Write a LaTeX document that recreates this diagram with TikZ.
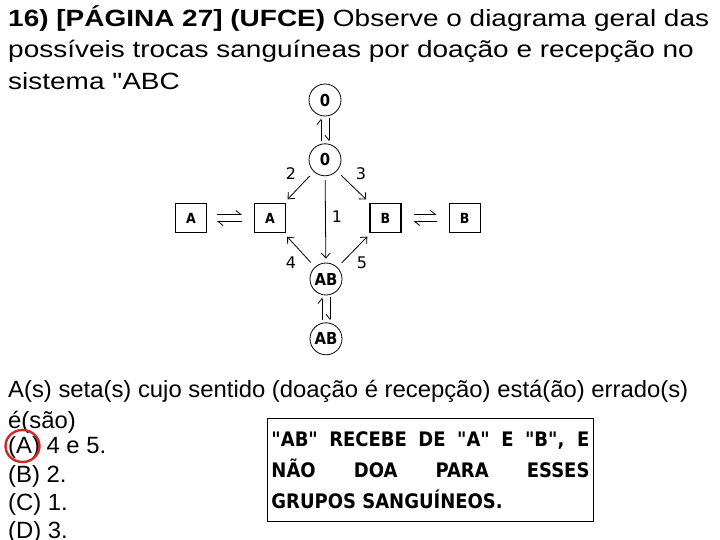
\documentclass[tikz,border=0pt]{standalone}
\usepackage{fontspec}
\newfontfamily\qfont{Liberation Sans}
\newfontfamily\diagfont{DejaVu Sans}
\newfontfamily\notefont{DejaVu Sans Condensed}
\usetikzlibrary{positioning,arrows.meta}
\definecolor{markred}{HTML}{D02828}

\begin{document}
\begin{tikzpicture}[x=1pt,y=-1pt,node distance=27pt,
  grp/.style={draw,circle,line width=0.8pt,minimum size=32pt,inner sep=0pt,font=\notefont\bfseries\fontsize{16.5}{16.5}\selectfont},
  bx/.style={draw,line width=1.1pt,minimum width=31pt,minimum height=29pt,inner sep=0pt,font=\notefont\bfseries\fontsize{14}{14}\selectfont},
  don/.style={-{Straight Barb[length=5pt,width=9pt]},line width=0.8pt,shorten <=6pt,shorten >=5pt},
  hpl/.style={-{Straight Barb[left,length=5pt,width=8pt]},line width=0.8pt},
  hpr/.style={-{Straight Barb[right,length=5pt,width=8pt]},line width=0.8pt},
  lbl/.style={font=\diagfont\fontsize{16}{16}\selectfont,inner sep=0pt},
  txt/.style={anchor=base west,inner sep=0pt,font=\qfont\fontsize{23.5}{28}\selectfont}]
  \useasboundingbox (0,0) rectangle (720,540);
  % heading
  \node[txt,xscale=1.19] (t1) at (8,27) {\textbf{16) [PÁGINA 27] (UFCE)} Observe o diagrama geral das};
  \node[txt,xscale=1.19] (t2) at (8,58) {possíveis trocas sanguíneas por doação e recepção no};
  \node[txt,xscale=1.19] (t3) at (8,90) {sistema "ABC};
  % blood groups
  \node[grp] (o1) at (325,100) {0};
  \node[grp,below=of o1] (o2) {0};
  \node[grp] (ab1) at (326,279) {AB};
  \node[grp,below=of ab1] (ab2) {AB};
  \node[bx] (a2) at (270,218) {A};
  \node[bx,left=47pt of a2] (a1) {A};
  \node[bx] (b1) at (385.5,218) {B};
  \node[bx,right=47pt of b1] (b2) {B};
  % two-way links
  \draw[hpl,shorten <=2pt,shorten >=2pt] ([xshift=-4pt]o2.north) -- ([xshift=-4pt]o1.south);
  \draw[hpr,shorten <=2pt,shorten >=2pt] ([xshift=4pt]o1.south) -- ([xshift=4pt]o2.north);
  \draw[hpl,shorten <=2pt,shorten >=2pt] ([xshift=-4pt]ab2.north) -- ([xshift=-4pt]ab1.south);
  \draw[hpr,shorten <=2pt,shorten >=2pt] ([xshift=4pt]ab1.south) -- ([xshift=4pt]ab2.north);
  \draw[hpl,shorten <=10pt,shorten >=12pt] ([yshift=3.5pt]a1.east) -- ([yshift=3.5pt]a2.west);
  \draw[hpl,shorten <=12pt,shorten >=10pt] ([yshift=-3.5pt]a2.west) -- ([yshift=-3.5pt]a1.east);
  \draw[hpl,shorten <=12pt,shorten >=12pt] ([yshift=3.5pt]b1.east) -- ([yshift=3.5pt]b2.west);
  \draw[hpl,shorten <=12pt,shorten >=12pt] ([yshift=-3.5pt]b2.west) -- ([yshift=-3.5pt]b1.east);
  % donations
  \draw[don,shorten <=4pt,shorten >=4pt] (o2) -- (ab1);
  \draw[don] (o2) -- (a2);
  \draw[don] (o2) -- (b1);
  \draw[don] (ab1) -- (a2);
  \draw[don] (ab1) -- (b1);
  \node[lbl] (n1) at (337,217) {1};
  \node[lbl] (n2) at (291,174) {2};
  \node[lbl] (n3) at (361,174) {3};
  \node[lbl] (n4) at (291,263) {4};
  \node[lbl] (n5) at (362,263) {5};
  % question
  \node[txt,xscale=1.015] (q1) at (8,397) {A(s) seta(s) cujo sentido (doação é recepção) está(ão) errado(s)};
  \node[txt,xscale=1.015] (q2) at (8,428) {é(são)};
  \node[txt,xscale=1.015] (oa) at (8,453) {(A) 4 e 5.};
  \node[txt,xscale=1.015] (ob) at (8,482) {(B) 2.};
  \node[txt,xscale=1.015] (oc) at (8,510) {(C) 1.};
  \node[txt,xscale=1.015] (od) at (8,538) {(D) 3.};
  \draw[markred,line width=2.4pt] (22.5,446) ellipse (17pt and 16pt);
  % comment box
  \node[draw,line width=0.9pt,anchor=north west,minimum width=326pt,minimum height=103pt,
    text width=318pt,align=justify,inner xsep=4pt,inner ysep=0pt,
    font=\notefont\bfseries\fontsize{20}{31}\selectfont] (note) at (267,418)
    {"AB" RECEBE DE "A" E "B", E\linebreak NÃO DOA PARA ESSES\linebreak GRUPOS SANGUÍNEOS.};
\end{tikzpicture}
\end{document}
